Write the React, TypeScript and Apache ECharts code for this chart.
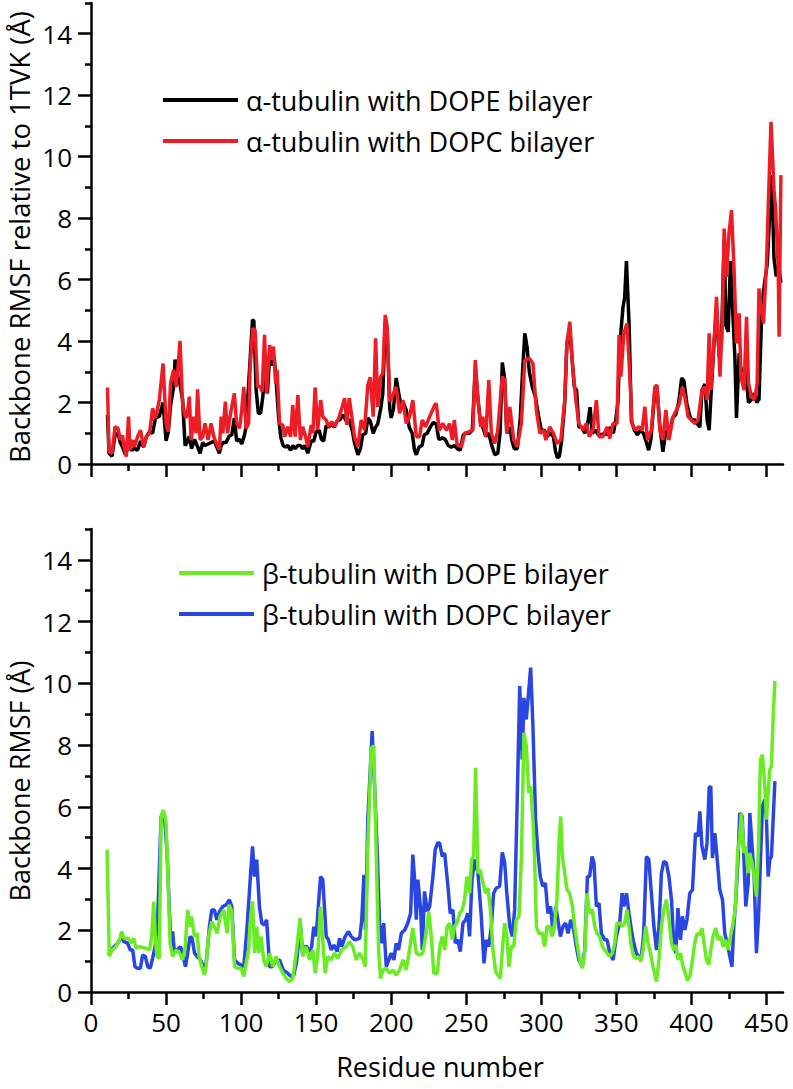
import React, { useEffect, useRef } from "react";
import * as echarts from "echarts";

const FONT = "Open Sans";

const xMajorTicks = [0, 50, 100, 150, 200, 250, 300, 350, 400, 450];
const xMinorTicks = [25, 75, 125, 175, 225, 275, 325, 375, 425];
const yMajorTicks = [0, 2, 4, 6, 8, 10, 12, 14];
const yMinorTicks = [1, 3, 5, 7, 9, 11, 13, 15];

const legendAlpha = ["α-tubulin with DOPE bilayer", "α-tubulin with DOPC bilayer"];
const legendBeta = ["β-tubulin with DOPE bilayer", "β-tubulin with DOPC bilayer"];

const yTitleTop = "Backbone RMSF relative to 1TVK (Å)";
const yTitleBottom = "Backbone RMSF (Å)";
const xTitle = "Residue number";

// alpha-tubulin, DOPE bilayer (black)
const alphaDOPE: number[][] = [
  [11,1.6],[12,0.35],[14,0.25],[16,0.95],[18,1.0],[19.5,0.7],[21,0.55],[23,0.3],[25,0.6],[27,0.45],[29,0.5],[31,0.45],[33,0.75],[35,0.55],[37,0.9],[39,1.05],[41,1.0],[43,1.5],[45.5,1.55],[48,2.0],[50,0.75],[51.5,1.05],[53,1.9],[55,2.5],[56,3.4],[58,2.8],[59.3,2.6],[61,2.1],[62.7,0.6],[64,0.7],[65.5,0.9],[67,0.5],[69,0.8],[70.7,0.6],[72.7,0.35],[74.4,0.7],[76,0.6],[78,0.65],[80,0.7],[82,0.75],[83,0.65],[85.5,0.35],[86.7,0.6],[88,0.7],[90,0.7],[92,0.9],[93.8,0.95],[95.5,1.5],[97,0.75],[99,0.8],[100.4,0.65],[102,0.9],[103.3,1.2],[106,3.4],[107.6,4.7],[108.5,4.65],[110,2.4],[111.5,1.65],[113,1.65],[114.5,2.2],[116,3.2],[117.5,2.3],[119,3.5],[120.5,3.2],[122,3.5],[123.5,2.6],[125,1.5],[126.5,0.85],[128,0.6],[129.5,0.55],[131,0.6],[133,0.45],[134.5,0.6],[136,0.5],[137.8,0.6],[139.5,0.6],[141,0.5],[142.5,0.6],[144.4,0.35],[146.7,0.75],[148.4,0.75],[150,1.05],[152,1.1],[153.5,0.8],[155,0.75],[156.7,1.25],[158.4,1.2],[160.4,1.3],[162,1.2],[164,1.4],[166,1.45],[168,1.6],[170,1.4],[172,1.45],[174,1.1],[175.5,0.7],[177.8,0.3],[179.5,0.5],[181,0.95],[183,1.0],[184.4,1.5],[186,1.4],[188,1.0],[189.6,1.2],[191,1.3],[193,1.8],[194.4,2.3],[196,4.6],[197.3,4.4],[199,1.8],[200,1.5],[201.5,1.8],[203.3,2.8],[205,2.3],[206.5,1.9],[208,2.0],[210,1.75],[212,1.2],[214,1.0],[215.5,0.45],[216.7,0.3],[218.5,0.55],[220.5,0.6],[222,0.95],[224,1.0],[226,1.2],[228,1.35],[230,1.3],[231.5,0.85],
  [232,0.8],[234,0.85],[236,0.8],[238,0.6],[240,0.55],[242,0.6],[244,0.5],[246,0.45],[248,0.95],[250,1.0],[252,1.0],[254,1.1],[256,3.1],[257.8,2.1],[259.6,1.3],[261,1.2],[263,0.9],[265,1.0],[267,0.6],[269,0.3],[271,0.35],[272.5,1.0],[274,3.3],[275.5,2.8],[277,1.0],[279,1.2],[280.5,0.75],[282,0.5],[284,0.5],[286,1.5],[287.5,3.0],[289,4.25],[290.5,3.8],[292,3.0],[294,2.5],[296,2.2],[298,1.6],[300,1.1],[302,1.1],[304,0.9],[306,1.0],[308,0.9],[309.5,0.4],[310.7,0.2],[312,0.25],[313.5,0.75],[315.6,2.0],[317,3.9],[319,4.35],[320.7,3.3],[322,2.5],[323.5,2.4],[325,1.2],[327,1.2],[329,1.0],[331,1.35],[332.5,1.85],[334,1.0],[336,1.1],[338,0.95],[340,0.95],[342,1.0],[344,0.95],[346,1.2],[348,1.0],[349.5,1.4],[351,2.0],[352.5,4.0],[354.4,5.1],[355.5,5.4],[356.7,6.6],[358.5,4.5],[360,1.4],[362,1.1],[364,0.95],[366,1.1],[368,1.0],[370,0.7],[371.5,0.45],[373,0.8],[375.5,2.3],[377,2.5],[379,1.2],[381,0.4],[383,1.1],[385,0.9],[387.5,1.5],[389.5,1.6],[391.5,2.0],[393.5,2.8],[395,2.7],[397,1.95],[399,1.55],[400.5,1.4],[402,1.45],[404,1.3],[405.6,1.2],[407,2.4],[409,2.6],[410.5,1.4],[411.8,1.1],[413,2.2],[415,3.9],[416.7,5.0],[418.5,3.5],[420,4.0],[421.8,7.3],[423,4.5],[424.5,4.3],[426,6.6],[427.5,5.0],[429,3.4],[430,1.5],[431.8,3.6],[433,3.0],[435,3.1],[436.5,2.8],[438,2.0],[440,2.1],[442,2.3],[443.5,2.0],[445,2.1],[447,5.2],[449,6.0],[450.5,6.5],[452,8.0],[453.5,9.4],[455,6.7],[456.5,6.1],[458,6.5],[459.6,5.9]
];

// alpha-tubulin, DOPC bilayer (red)
const alphaDOPC: number[][] = [
  [11,2.49],[12,0.4],[14,0.35],[16,1.21],[18,1.16],[19.5,0.78],[21,0.94],[22,0.56],[23.5,0.24],[25,1.54],[26,0.46],[28,0.78],[29,0.56],[31,0.89],[33,1.1],[35,0.56],[37,0.89],[39,1.0],[41,1.81],[43,1.49],[45.5,2.08],[48,3.27],[50,1.32],[51.5,1.05],[53,2.62],[55,3.06],[56.7,2.5],[58,3.17],[59.3,4.01],[61,1.97],[62.7,1.54],[64,1.54],[65.5,2.19],[66.7,0.78],[68.5,1.54],[70,1.0],[71,2.43],[72.7,0.78],[74.4,0.89],[76,1.32],[78,0.78],[80,1.32],[81.8,0.89],[83,0.73],[85.5,0.46],[86.7,1.54],[87.8,1.0],[89.5,2.03],[91,1.0],[93,1.65],[95.5,2.3],[97,1.32],[99,1.16],[100.4,1.76],[101.8,2.51],[103.3,1.16],[105,1.32],[106,3.17],[107.8,4.41],[109.3,4.36],[111,2.51],[113,2.51],[114,2.35],[115.6,4.2],[117,2.3],[119,3.87],[120.4,3.38],[121.6,3.82],[123,2.62],[124,3.06],[125.6,1.32],[127.8,1.27],[129,0.89],[131,1.21],[133,0.89],[134.4,1.92],[136,0.89],[137.8,2.24],[139.5,0.78],[141,1.21],[143,0.89],[144.4,0.56],[146.7,1.27],[147.8,1.0],[149.3,2.49],[151,1.1],[153,2.08],[154.4,1.54],[156.7,1.43],[158.2,1.21],[160.4,1.38],[162.2,1.21],[165,1.49],[166.7,1.76],[169,2.14],[170.4,1.27],[172,2.14],[173.8,1.54],[175.5,0.89],[177.8,0.56],[180,1.43],[182.2,1.1],[184.4,2.57],[186,2.82],[188,1.54],[189.6,4.09],[191,1.86],[193,2.84],[194.4,2.95],[196,4.85],[197.3,4.47],[199,2.03],[201,2.24],[203.3,2.51],[205.6,1.65],[207.8,2.08],[210,1.32],[212.2,1.54],[214.4,2.08],[216.7,0.89],[218.9,0.89],[220.7,1.43],[222.9,1.21],[225.6,1.54],[229,1.92],[230,1.97],[232,1.1],[234.4,1.32],[236.7,1.1],[238.9,1.32],[240.7,0.78],[242,1.43],[243.8,0.67],[246.7,0.56],[249,1.0],[252,1.05],[254.4,1.1],[256,3.38],[257.8,2.08],[259.6,1.21],[261,1.54],[263,0.89],[265,2.73],[266.7,1.0],[269,0.67],[271,1.1],[274,2.84],[275.6,2.73],[277,1.0],[279,1.86],[281.6,0.78],[284,0.56],[286.7,1.32],[289,3.38],[292,3.44],[294.4,3.27],[296.7,1.76],[299,1.0],[301.6,1.1],[303,0.78],[305.6,1.21],[308,1.0],[310.4,0.67],[313,0.78],[315.6,2.08],[317,3.92],[319,4.63],[320.7,3.27],[323,2.08],[325,1.32],[327.8,1.1],[330,1.32],[332,0.89],[334.4,1.1],[336.7,2.08],[338.4,0.89],[341,0.89],[343.8,1.21],[345.6,0.83],[347.8,1.32],[350.4,1.32],[351.8,4.2],[353,2.84],[355,4.25],[357,4.57],[359,2.84],[360.4,1.32],[362.7,1.1],[364.9,1.21],[367.1,1.1],[369,1.86],[370.7,0.78],[373.3,1.1],[375.6,2.51],[377,2.57],[379,1.1],[381,0.78],[383,1.76],[385,0.78],[387.8,1.54],[390,1.76],[392,1.97],[394,2.51],[395.6,2.19],[397.8,1.54],[400,1.43],[402.2,1.32],[404.4,1.43],[407,2.4],[409,2.51],[410.4,2.08],[411.8,4.25],[413,2.4],[415,3.92],[416.7,5.44],[419,2.84],[420.7,4.79],[421.8,7.66],[423.3,6.09],[425,7.5],[426.7,8.26],[428.4,6.31],[430,3.92],[431.8,4.9],[433,2.84],[435,2.4],[436.7,4.79],[438,2.62],[440,2.19],[442,2.08],[443.8,2.62],[445,5.71],[446.7,5.0],[448,4.57],[450,6.53],[451.8,9.34],[453,11.13],[455,8.91],[456,8.37],[457.8,6.42],[458.4,4.14],[459.6,9.4]
];

// beta-tubulin, DOPE bilayer (green)
const betaDOPE: number[][] = [
  [10.7,4.61],[12.2,1.15],[13.8,1.36],[16.7,1.47],[19,1.69],[20.4,1.96],[22,1.74],[24.9,1.74],[26.7,1.58],[28.4,1.74],[30,1.42],[32.2,1.47],[34.4,1.44],[36.7,1.42],[39,1.36],[40.4,1.8],[41.8,2.93],[42.9,1.69],[44,1.15],[45.5,1.09],[46.7,5.69],[48.2,5.89],[50,5.48],[51.5,3.42],[52.7,1.58],[54.4,1.15],[56.7,1.36],[59,1.26],[61,1.04],[62.7,1.42],[64.4,2.66],[66,2.12],[67,2.45],[68.9,1.8],[70.7,1.9],[72,1.15],[73.8,0.82],[75.6,0.55],[76.7,0.82],[78,1.69],[80.4,2.28],[82,2.12],[84,1.9],[86,2.45],[88.4,2.66],[90.7,1.9],[92,2.82],[93.8,2.61],[95.6,0.82],[97.8,0.77],[100,0.77],[101.8,0.5],[102.9,0.82],[105,1.36],[106,2.23],[107.6,2.93],[109,1.26],[110.4,2.12],[111.8,1.26],[113.3,1.8],[115,1.04],[116.7,0.82],[119,1.26],[121,0.82],[123.3,1.15],[125.6,0.82],[127.8,0.61],[130,0.44],[132.2,0.34],[134.4,0.44],[136.7,1.26],[139.3,2.39],[141,1.15],[143.3,1.47],[145.6,1.04],[147.8,1.36],[149.3,0.61],[151,1.15],[152.9,2.77],[154.4,1.69],[156,0.61],[157.8,1.15],[160,1.04],[162.2,1.26],[164.4,1.09],[167,1.36],[170,1.47],[172.2,1.63],[174.4,1.47],[176.7,1.04],[178.9,1.26],[181,1.09],[182.7,0.82],[184.4,4.72],[186.7,7.91],[188.4,7.97],[190,4.5],[191.6,1.36],[192.9,0.44],[194.4,0.71],[196.7,0.77],[199,0.61],[201.1,0.71],[203.3,0.55],[205.6,0.71],[207.8,1.04],[210,0.71],[212.2,1.36],[214.4,2.07],[216.7,1.26],[218.9,1.2],[221,1.26],[223.3,1.9],[225,2.61],[226.7,1.8],[228.4,0.61],[230.7,0.61],[232.5,1.5],[234,1.8],[235.6,1.36],[237.3,2.12],[239,2.23],[240.7,1.69],[242.2,2.12],[243.8,2.23],[245.6,2.55],[247.3,2.66],[248.9,2.99],[250.4,3.74],[252.2,3.2],[253.6,4.29],[254.9,4.39],[256.2,7.26],[257.8,3.85],[259.3,3.96],[261.1,3.53],[262.9,3.2],[264.4,3.37],[266,2.72],[267.8,1.36],[269.6,0.66],[271.1,0.55],[272.7,0.44],[274,1.36],[275.6,2.23],[277.1,1.8],[278.4,0.82],[280,1.47],[281.6,1.47],[283.3,2.34],[285.1,2.45],[286.7,4.29],[288.4,8.4],[290,7.97],[291.6,6.45],[292.9,6.67],[294.4,5.58],[295.6,4.29],[296.7,2.12],[298.4,1.9],[300.7,1.9],[302.2,1.47],[303.8,2.12],[305.6,2.12],[307.3,1.8],[308.9,2.23],[310.4,2.99],[311.8,4.83],[312.9,5.69],[314,4.39],[315.6,3.85],[317.1,3.31],[318.9,3.2],[320.7,2.77],[322.2,2.12],[323.8,1.58],[325.6,1.04],[327.3,0.77],[328.9,1.26],[330.4,3.2],[332.2,2.55],[334,2.66],[335.6,2.12],[337.1,1.9],[338.9,1.8],[340.7,1.47],[342.2,1.36],[343.8,1.26],[345.6,1.15],[347.3,1.26],[348.9,1.58],[350.4,2.23],[352.2,2.23],[354,2.12],[355.6,2.23],[357.1,2.66],[358.4,2.12],[360,1.47],[361.6,1.15],[363.3,1.09],[364.9,1.15],[366.2,0.98],[367.8,1.36],[369.6,2.12],[371.1,1.58],[372.7,1.26],[374.4,0.82],[376.7,0.34],[378.4,1.04],[380,2.12],[381.6,2.66],[383.3,2.99],[385.1,2.34],[386.7,1.58],[388.2,1.36],[389.6,1.52],[391.1,1.04],[392.7,1.26],[394.4,0.82],[396,0.61],[397.3,0.37],[398.9,0.5],[400.7,1.04],[402.2,1.58],[403.8,1.9],[405.6,1.85],[407.1,2.07],[408.4,1.58],[410,1.04],[411.6,0.88],[412.9,1.36],[414.4,1.8],[416.2,2.07],[417.8,1.69],[419.6,1.8],[421.1,1.47],[422.9,1.69],[424.4,1.36],[426,1.8],[427.8,2.23],[429.3,2.77],[430.7,4.5],[432.2,5.04],[433.3,5.8],[435,4.5],[436.2,4.72],[437.8,3.85],[438.9,4.5],[440.4,4.18],[441.8,3.74],[443.3,3.1],[444.7,4.72],[446,7.53],[447.3,7.69],[448.9,6.67],[450,5.58],[451.1,6.45],[452.2,7.21],[453.3,7.32],[454.4,8.83],[455.6,10.08]
];

// beta-tubulin, DOPC bilayer (blue)
const betaDOPC: number[][] = [
  [11.6,1.2],[14.4,1.42],[17.8,1.58],[20.4,1.8],[22,1.63],[24.4,1.58],[26.2,1.36],[27.8,1.36],[29.3,0.82],[31,0.77],[32.9,0.77],[34.4,1.2],[36.2,1.15],[37.8,0.82],[39.5,0.77],[41,1.09],[42.7,1.47],[44.4,2.34],[46.7,5.69],[49,5.69],[50.7,4.5],[52.2,2.66],[53.3,1.47],[54.4,1.96],[55.6,1.26],[57.3,1.36],[59.6,1.47],[61,1.26],[62.9,0.82],[64.4,1.26],[66,1.8],[67.3,1.74],[69,1.26],[70.7,1.15],[72.9,1.04],[75,0.82],[76.7,0.93],[78.9,2.12],[80.4,2.66],[82.2,2.66],[83.8,2.34],[85.6,2.61],[87.8,2.77],[90,2.82],[92.2,2.99],[93.8,2.77],[95.6,1.04],[97.8,0.93],[100,0.88],[101.8,0.82],[104,2.12],[106.2,3.74],[107.6,4.72],[108.9,3.74],[110.4,4.29],[112.2,2.77],[113.8,2.23],[115.6,2.17],[117,2.34],[119,0.82],[120.7,0.82],[122.7,0.98],[125.6,1.04],[128.2,0.71],[131,0.61],[133.3,0.5],[135.1,0.55],[137,1.0],[139.5,2.2],[141,1.2],[143.3,1.5],[145.6,1.3],[147,1.47],[148.4,2.12],[150,1.8],[152.9,3.74],[154.4,3.64],[156.7,1.8],[158.2,1.69],[160,1.36],[161.8,1.52],[164,1.31],[165.6,1.74],[167.1,1.47],[169.3,1.8],[171.6,1.96],[173.3,1.8],[175.6,1.69],[179,1.74],[180.4,2.34],[181.8,3.8],[182.9,2.01],[184.4,5.58],[187.3,8.45],[188.9,6.67],[190.7,4.5],[192.2,2.23],[193.8,1.58],[195,2.23],[196.7,0.82],[198.4,1.04],[200,1.26],[201.8,1.04],[203.3,1.58],[204.9,1.36],[206.7,1.9],[209,2.01],[211,2.23],[212.9,2.55],[214.4,4.45],[215.6,3.64],[216.7,2.34],[217.8,3.64],[219.6,2.66],[220.7,1.36],[222.2,3.26],[224,2.61],[225.6,2.77],[227.8,3.74],[229.3,4.61],[231,4.83],[232.2,4.83],[234,4.39],[235.6,4.5],[237.8,3.42],[239.3,2.55],[241.1,2.66],[242.7,1.58],[244.4,1.69],[246,1.31],[247.8,2.23],[249.6,2.34],[251,2.55],[252.2,1.8],[253.8,3.64],[255.6,4.29],[257.8,3.85],[260,2.45],[261.8,0.93],[263.3,1.69],[265,1.47],[266.7,2.12],[268.2,3.2],[270,3.37],[272.2,3.42],[274,4.52],[275.6,4.18],[277,3.2],[279,2.12],[280.7,1.8],[282.2,2.66],[283.8,5.91],[285.6,9.91],[287.3,7.53],[288.4,9.53],[290,8.83],[292.9,10.51],[294.4,8.61],[296.2,5.58],[297.8,4.5],[299.3,3.74],[301,3.42],[302.7,3.53],[304.4,2.55],[306.2,2.77],[307.8,1.9],[309.6,2.77],[311,2.34],[312.7,1.8],[314.4,2.12],[316.2,2.23],[317.8,1.9],[319.6,2.34],[321.6,2.01],[323.3,1.47],[325,1.04],[327.3,0.82],[328.9,1.36],[330.7,3.74],[332.2,3.74],[333.8,4.39],[335.1,4.18],[336.7,2.77],[338.4,2.88],[340,1.9],[342.2,1.69],[343.8,1.69],[345.6,1.26],[347.8,1.04],[350,1.8],[352.2,2.23],[353.8,3.2],[355,2.77],[356.7,3.2],[358.4,2.55],[360,2.01],[361.6,1.58],[363.3,1.26],[365,1.15],[366.7,1.15],[368.2,1.9],[370,4.39],[371.6,4.29],[373.3,3.2],[375,2.12],[376.7,1.36],[378.4,2.12],[380,3.85],[381.6,4.23],[383.3,4.18],[385,3.74],[386.7,2.99],[388.2,1.58],[389.6,1.26],[391,2.72],[392.7,1.69],[394,2.45],[395.6,2.01],[397,2.34],[398.9,3.2],[400.7,3.31],[402.7,5.15],[404.4,5.04],[405.6,5.85],[407,4.72],[408.9,4.29],[410.4,4.83],[411.8,6.61],[412.9,6.67],[414,4.34],[415.6,5.15],[417,4.39],[418.9,3.31],[420.7,2.99],[422.2,1.9],[423.8,1.58],[425.6,1.15],[427,0.82],[428.2,2.12],[429.6,2.99],[431,4.29],[432.2,5.8],[433.8,5.69],[435,4.29],[436.2,2.77],[437.8,3.53],[438.9,5.8],[440.4,4.72],[441.8,3.74],[443.3,1.26],[444.7,2.45],[446,4.29],[447.3,6.02],[448.9,6.23],[450,5.58],[451.1,3.74],[452.2,4.29],[453.3,4.39],[455.6,6.83]
];

const COLORS = {
  black: "#000000",
  red: "#ee1c24",
  green: "#6aec24",
  blue: "#2a46e2",
};

const X_MAX = 461;
const Y_MAX = 15;

function buildOption() {
  const axisLineStyle = { color: "#000", width: 2.5 };
  const labelStyle = { fontSize: 26, fontFamily: FONT, color: "#000" };

  const xAxes: any[] = [];
  const yAxes: any[] = [];
  [0, 1].forEach((gi) => {
    xAxes.push({
      type: "value", gridIndex: gi, min: 0, max: X_MAX, position: "bottom",
      splitLine: { show: false },
      axisLine: { show: true, onZero: false, lineStyle: axisLineStyle },
      axisTick: { show: true, customValues: xMajorTicks, length: 13, inside: false, lineStyle: axisLineStyle },
      axisLabel: gi === 1
        ? { show: true, customValues: xMajorTicks, margin: 17, ...labelStyle }
        : { show: false },
    });
    xAxes.push({
      type: "value", gridIndex: gi, min: 0, max: X_MAX, position: "bottom",
      splitLine: { show: false },
      axisLine: { show: false, onZero: false },
      axisTick: { show: true, customValues: xMinorTicks, length: 7, lineStyle: axisLineStyle },
      axisLabel: { show: false },
    });
    yAxes.push({
      type: "value", gridIndex: gi, min: 0, max: Y_MAX, position: "left",
      splitLine: { show: false },
      axisLine: { show: true, onZero: false, lineStyle: axisLineStyle },
      axisTick: { show: true, customValues: yMajorTicks, length: 13, lineStyle: axisLineStyle },
      axisLabel: { show: true, customValues: yMajorTicks, margin: 19, ...labelStyle },
    });
    yAxes.push({
      type: "value", gridIndex: gi, min: 0, max: Y_MAX, position: "left",
      splitLine: { show: false },
      axisLine: { show: false, onZero: false },
      axisTick: { show: true, customValues: yMinorTicks, length: 6, lineStyle: axisLineStyle },
      axisLabel: { show: false },
    });
  });

  const lineSeries = (name: string, data: number[][], color: string, gi: number) => ({
    type: "line",
    name,
    data,
    xAxisIndex: gi * 2,
    yAxisIndex: gi * 2,
    showSymbol: false,
    symbol: "none",
    lineStyle: { color, width: 3.5 },
    itemStyle: { color },
    emphasis: { disabled: true },
    silent: true,
  });

  const legendCommon = {
    orient: "vertical",
    icon: "rect",
    itemWidth: 75,
    itemHeight: 4,
    itemGap: 13,
    padding: 0,
    selectedMode: false,
    textStyle: { fontSize: 27, fontFamily: FONT, color: "#000", lineHeight: 28, padding: [0, 0, 0, 3] },
  };

  return {
    animation: false,
    backgroundColor: "#fff",
    grid: [
      { left: 91, top: 3, width: 692, height: 461 },
      { left: 91, top: 529, width: 692, height: 463 },
    ],
    xAxis: xAxes,
    yAxis: yAxes,
    legend: [
      { ...legendCommon, data: legendAlpha, left: 163, top: 86 },
      { ...legendCommon, data: legendBeta, left: 179, top: 559 },
    ],
    series: [
      lineSeries(legendAlpha[0], alphaDOPE, COLORS.black, 0),
      lineSeries(legendAlpha[1], alphaDOPC, COLORS.red, 0),
      lineSeries(legendBeta[1], betaDOPC, COLORS.blue, 1),
      lineSeries(legendBeta[0], betaDOPE, COLORS.green, 1),
    ],
    graphic: [
      {
        type: "text", x: 19, y: 237, rotation: Math.PI / 2,
        style: { text: yTitleTop, fontSize: 27.5, fontFamily: FONT, fill: "#000", align: "center", verticalAlign: "middle" },
      },
      {
        type: "text", x: 19, y: 781, rotation: Math.PI / 2,
        style: { text: yTitleBottom, fontSize: 27, fontFamily: FONT, fill: "#000", align: "center", verticalAlign: "middle" },
      },
      {
        type: "text", x: 440, y: 1066,
        style: { text: xTitle, fontSize: 27, fontFamily: FONT, fill: "#000", align: "center", verticalAlign: "middle" },
      },
    ],
  };
}

export default function App() {
  const ref = useRef<HTMLDivElement>(null);
  useEffect(() => {
    if (!ref.current) return;
    const chart = echarts.init(ref.current, undefined, { renderer: "svg" });
    chart.setOption(buildOption() as any);
    return () => chart.dispose();
  }, []);
  return (
    <div
      ref={ref}
      style={{ position: "absolute", left: 0, top: 0, width: 793, height: 1089, background: "#fff" }}
    />
  );
}
